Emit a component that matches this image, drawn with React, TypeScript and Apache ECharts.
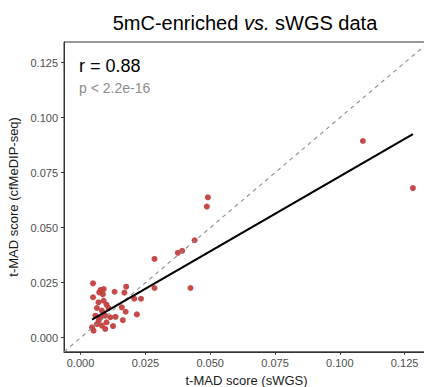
import React, { useEffect, useRef } from "react";
import * as echarts from "echarts";

// t-MAD score (sWGS) -> x, t-MAD score (cfMeDIP-seq) -> y
const sWGS = [
  0.1089, 0.1282, 0.0491, 0.0487, 0.044, 0.0392, 0.0375, 0.0285, 0.0424, 0.0285,
  0.0176, 0.0169, 0.0207, 0.0233, 0.0048, 0.0131, 0.0217, 0.0174, 0.0163, 0.0135,
  0.0125, 0.0048, 0.0072, 0.0077, 0.0089, 0.0089, 0.0069, 0.0063, 0.0082, 0.0108,
  0.0159, 0.0057, 0.0076, 0.0095, 0.0115, 0.0063, 0.0082, 0.0044, 0.0095, 0.005,
  0.0086, 0.01, 0.007, 0.01,
];
const cfMeDIP = [
  0.0894, 0.068, 0.0638, 0.0596, 0.0443, 0.0395, 0.0386, 0.0358, 0.0226, 0.0226,
  0.0232, 0.0205, 0.0177, 0.0177, 0.0247, 0.0209, 0.0106, 0.0118, 0.008, 0.0095,
  0.0053, 0.0184, 0.0206, 0.0217, 0.0221, 0.0168, 0.0161, 0.0135, 0.0123, 0.0135,
  0.0138, 0.01, 0.0093, 0.01, 0.0093, 0.0062, 0.0055, 0.0047, 0.004, 0.0032,
  0.0197, 0.015, 0.0078, 0.007,
];
const tickValues = [0, 0.025, 0.05, 0.075, 0.1, 0.125];
const axisMin = -0.0064;
const axisMax = 0.1344;
const fitIntercept = 0.00523;
const fitSlope = 0.681;
const titleParts = ["5mC-enriched ", "vs.", " sWGS data"];
const rText = "r = 0.88";
const pText = "p < 2.2e-16";

export default function App() {
  const ref = useRef<HTMLDivElement>(null);
  useEffect(() => {
    if (!ref.current) return;
    const chart = echarts.init(ref.current, null, { renderer: "svg" });
    const pts = sWGS.map((x, i) => [x, cfMeDIP[i]]);
    const xMinD = Math.min(...sWGS);
    const xMaxD = Math.max(...sWGS);
    const font = "Liberation Sans, Arial, Helvetica, sans-serif";
    const axisCommon = {
      type: "value",
      min: axisMin,
      max: axisMax,
      splitLine: { show: false },
      axisLine: { show: true, onZero: false, lineStyle: { color: "#333", width: 1 } },
      axisTick: {
        show: true,
        customValues: tickValues,
        length: 3,
        lineStyle: { color: "#333", width: 1 },
      },
      axisLabel: {
        customValues: tickValues,
        formatter: (v: number) => v.toFixed(3),
        color: "#4d4d4d",
        fontSize: 11,
        fontFamily: font,
      },
      nameLocation: "middle",
      nameTextStyle: { color: "#1a1a1a", fontSize: 13, fontFamily: font },
    };
    chart.setOption({
      animation: false,
      grid: {
        left: 64,
        top: 42,
        width: 365,
        height: 309.8,
        show: true,
        borderColor: "#333",
        borderWidth: 1,
        backgroundColor: "#fff",
        containLabel: false,
        outerBoundsMode: "none",
      },
      xAxis: {
        ...axisCommon,
        name: "t-MAD score (sWGS)",
        nameGap: 21,
        axisLabel: { ...axisCommon.axisLabel, margin: 6 },
      },
      yAxis: {
        ...axisCommon,
        name: "t-MAD score (cfMeDIP-seq)",
        nameGap: 38,
        axisLabel: { ...axisCommon.axisLabel, margin: 6 },
      },
      series: [
        {
          type: "scatter",
          data: pts,
          symbolSize: 6,
          itemStyle: { color: "#c2403f", opacity: 0.95 },
          z: 2,
        },
        {
          type: "line",
          data: [
            [axisMin, axisMin],
            [axisMax, axisMax],
          ],
          symbol: "none",
          lineStyle: { color: "#8c8c8c", width: 1.1, type: [4, 4] },
          z: 3,
          silent: true,
        },
        {
          type: "line",
          data: [
            [xMinD, fitIntercept + fitSlope * xMinD],
            [xMaxD, fitIntercept + fitSlope * xMaxD],
          ],
          symbol: "none",
          lineStyle: { color: "#000", width: 2.2 },
          z: 4,
          silent: true,
        },
      ],
      graphic: [
        {
          type: "text",
          x: 245,
          y: 23,
          style: {
            text: `{a|${titleParts[0]}}{b|${titleParts[1]}}{a|${titleParts[2]}}`,
            align: "center",
            verticalAlign: "middle",
            rich: {
              a: { fontSize: 20, fontFamily: font, fill: "#000" },
              b: { fontSize: 20, fontFamily: font, fontStyle: "italic", fill: "#000" },
            },
          },
        },
        {
          type: "text",
          x: 79,
          y: 66,
          style: {
            text: rText,
            fontSize: 18,
            fontFamily: font,
            fill: "#000",
            verticalAlign: "middle",
          },
        },
        {
          type: "text",
          x: 79,
          y: 88,
          style: {
            text: pText,
            fontSize: 14,
            fontFamily: font,
            fill: "#8c8c8c",
            verticalAlign: "middle",
          },
        },
      ],
    });
    return () => chart.dispose();
  }, []);
  return (
    <div
      ref={ref}
      style={{ position: "fixed", left: 0, top: 0, width: 424, height: 387, background: "#fff" }}
    />
  );
}
